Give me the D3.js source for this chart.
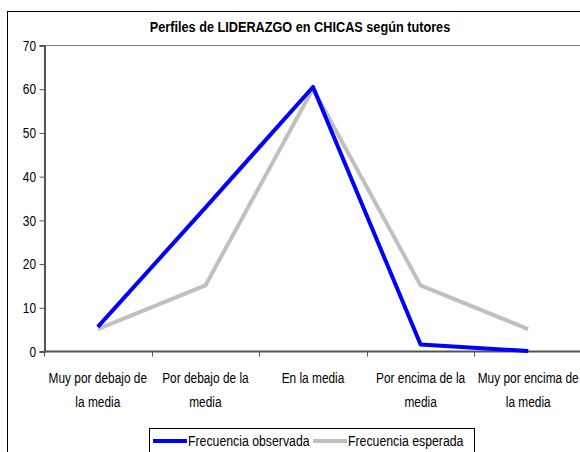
<!DOCTYPE html>
<html>
<head>
<meta charset="utf-8">
<script src="https://cdn.jsdelivr.net/npm/d3@7"></script>
<style>
  body { margin: 0; background: #fff; }
  svg { display: block; }
  text { font-family: "Liberation Sans", Arial, sans-serif; fill: #000; }
</style>
</head>
<body>
<svg></svg>
<script>
// Chart data
let categories = [
  "Muy por debajo de\nla media",
  "Por debajo de la\nmedia",
  "En la media",
  "Por encima de la\nmedia",
  "Muy por encima de\nla media"
];
let observada = [5.5, 32.8, 60.4, 1.5, 0];
let esperada = [5, 15, 60, 15, 5];
let yTicks = [0, 10, 20, 30, 40, 50, 60, 70];
let seriesNames = ["Frecuencia observada", "Frecuencia esperada"];
let seriesColors = ["#0000ff", "#c0c0c0"];

let vWidth = 580;
let vHeight = 452;
let plot = { left: 44, top: 45, right: 582, bottom: 351 };
let narrow = 0.82; // no Arial Narrow installed, squeeze Liberation Sans instead
let fontSize = 14.5;

let svg = d3.select('svg')
  .attr('width', vWidth)
  .attr('height', vHeight)

// text squeezed horizontally around its anchor point
function addText(parent, px, py, str, anchor, bold, size) {
  let t = parent.append('g')
    .attr('transform', `translate(${px}, ${py}) scale(${narrow}, 1)`)
    .append('text')
    .attr('text-anchor', anchor)
    .style('font-size', (size || fontSize) + 'px')
    .text(str)
  if (bold) t.style('font-weight', 'bold')
  return t
}

// outer chart border (runs off the right and bottom edges)
svg.append('rect')
  .attr('x', 7.5)
  .attr('y', 11.5)
  .attr('width', 620)
  .attr('height', 500)
  .attr('fill', 'none')
  .attr('stroke', '#000')

addText(svg, 300, 32, 'Perfiles de LIDERAZGO en CHICAS según tutores', 'middle', true, 15.5)

let x = d3.scaleBand()
  .domain(categories)
  .range([plot.left, plot.right])

let y = d3.scaleLinear()
  .domain([0, 70])
  .range([plot.bottom, plot.top])

// top edge of the plot area
svg.append('line')
  .attr('x1', plot.left)
  .attr('x2', plot.right)
  .attr('y1', y(70) + 0.5)
  .attr('y2', y(70) + 0.5)
  .attr('stroke', '#808080')

// y axis
let yAxis = svg.append('g')
  .attr('transform', `translate(${plot.left + 0.5}, 0.5)`)
  .call(d3.axisLeft(y).tickValues(yTicks).tickSize(5).tickPadding(4))
yAxis.select('.domain').attr('stroke', '#555').attr('stroke-width', 2)
yAxis.selectAll('.tick line').attr('stroke', '#555')
yAxis.selectAll('.tick text')
  .attr('x', -8.5 / narrow)
  .attr('transform', `scale(${narrow}, 1)`)
  .style('font-size', fontSize + 'px')
  .style('font-family', '"Liberation Sans", Arial, sans-serif')
  .attr('fill', '#000')

// x axis: ticks between categories
let xAxis = svg.append('g')
  .attr('transform', `translate(0, ${plot.bottom + 0.5})`)
xAxis.append('line')
  .attr('x1', plot.left)
  .attr('x2', plot.right)
  .attr('stroke', '#555')
  .attr('stroke-width', 2)
let boundaries = categories.map((d) => x(d)).concat([x(categories[categories.length - 1]) + x.bandwidth()])
xAxis.selectAll('line.tick')
  .data(boundaries)
  .enter()
  .append('line')
  .attr('class', 'tick')
  .attr('x1', (d) => Math.round(d) + 0.5)
  .attr('x2', (d) => Math.round(d) + 0.5)
  .attr('y1', 0)
  .attr('y2', 5)
  .attr('stroke', '#555')

categories.forEach((c) => {
  c.split('\n').forEach((line, i) => {
    addText(svg, x(c) + x.bandwidth() / 2, 383 + i * 24, line, 'middle', false)
  })
})

// lines
let vLine = d3.line()
  .x((d, i) => x(categories[i]) + x.bandwidth() / 2)
  .y((d) => y(d))

let series = [esperada, observada]
let colors = [seriesColors[1], seriesColors[0]]
svg.selectAll('path.series')
  .data(series)
  .enter()
  .append('path')
  .attr('class', 'series')
  .attr('d', vLine)
  .attr('fill', 'none')
  .attr('stroke', (d, i) => colors[i])
  .attr('stroke-width', 4)
  .attr('stroke-linejoin', 'round')

// legend
let legend = svg.append('g')
legend.append('rect')
  .attr('x', 149.5)
  .attr('y', 428.5)
  .attr('width', 325)
  .attr('height', 60)
  .attr('fill', 'none')
  .attr('stroke', '#000')
let legendX = [153, 313]
seriesNames.forEach((name, i) => {
  legend.append('line')
    .attr('x1', legendX[i])
    .attr('x2', legendX[i] + 34)
    .attr('y1', 441)
    .attr('y2', 441)
    .attr('stroke', seriesColors[i])
    .attr('stroke-width', 4)
  addText(legend, legendX[i] + 35, 446, name, 'start', false, 15)
})
</script>
</body>
</html>
